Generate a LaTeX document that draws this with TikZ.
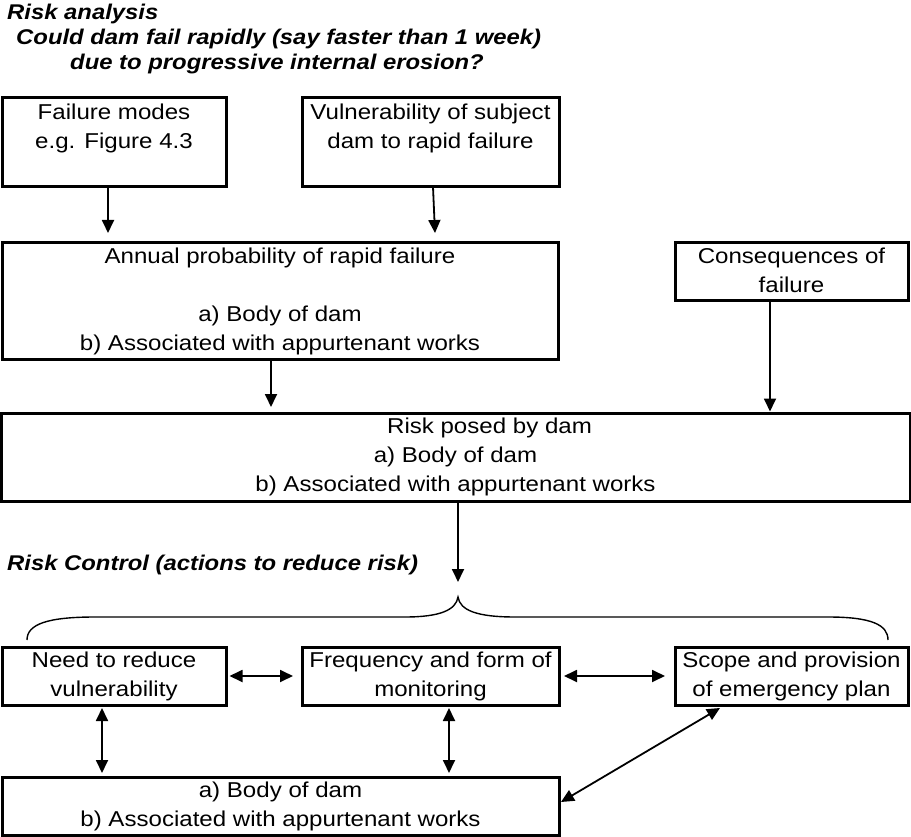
\documentclass[tikz,border=0pt]{standalone}
\usepackage{fontspec}
\setmainfont{Liberation Sans}[FakeStretch=1.12]
\usetikzlibrary{arrows.meta}
\newcommand\mybody{\fontsize{21.5}{29}\selectfont}
\newcommand\mytitle{\fontsize{21.3}{24}\selectfont\bfseries\itshape}
\begin{document}
\begin{tikzpicture}[x=1pt,y=-1pt,
  box/.style={draw, line width=3pt, inner sep=0pt, align=center, font=\mybody},
  ttl/.style={anchor=base west, inner sep=0pt, font=\mytitle},
  tip/.tip={Triangle[width=12pt,length=13pt]},
  arr/.style={line width=1.8pt, -tip},
  darr/.style={line width=1.8pt, tip-tip},
  brace/.style={line width=1.4pt}]
\useasboundingbox (0,0) rectangle (911,837);

% titles
\node[ttl] (t1) at (7,20) {Risk analysis};
\node[ttl] (t2) at (16,45) {Could dam fail rapidly (say faster than 1 week)};
\node[ttl] (t3) at (70,70) {due to progressive internal erosion?};
\node[ttl] (t4) at (7,570) {Risk Control (actions to reduce risk)};

% boxes
\node[box, minimum width=224, minimum height=89] (b1) at (114,142.5)
  {\strut Failure modes\\\strut e.g. Figure 4.3\\\strut};
\node[box, minimum width=257, minimum height=89] (b2) at (430.5,142.5)
  {\strut Vulnerability of subject\\\strut dam to rapid failure\\\strut};
\node[box, minimum width=556, minimum height=116] (b3) at (280,301)
  {\strut Annual probability of rapid failure\\\strut\\\strut a) Body of dam\\\strut b) Associated with appurtenant works};
\node[box, minimum width=233, minimum height=58] (b4) at (791.5,272)
  {\strut Consequences of\\\strut failure};
\node[box, minimum width=909, minimum height=88] (b5) at (455.5,457)
  {\strut\hspace*{68pt}Risk posed by dam\\\strut a) Body of dam\\\strut b) Associated with appurtenant works};
\node[box, minimum width=224, minimum height=58] (bA) at (114,676)
  {\strut Need to reduce\\\strut vulnerability};
\node[box, minimum width=257, minimum height=58] (bB) at (430.5,676)
  {\strut Frequency and form of\\\strut monitoring};
\node[box, minimum width=233, minimum height=58] (bC) at (791.5,676)
  {\strut Scope and provision\\\strut of emergency plan};
\node[box, minimum width=557, minimum height=58] (bD) at (280.5,806)
  {\strut a) Body of dam\\\strut b) Associated with appurtenant works};

% arrow end points
\coordinate (e1) at (108,233);
\coordinate (e2) at (435,233);
\coordinate (s2) at (433,187);
\coordinate (e3) at (271,407);
\coordinate (e4) at (770,413);
\coordinate (e5) at (458,582);
\coordinate (tipb) at (458,597);

\draw[arr] (e1 |- b1.south) -- (e1);
\draw[arr] (s2) -- (e2);
\draw[arr] (e3 |- b3.south) -- (e3);
\draw[arr] (e4 |- b4.south) -- (e4 |- b5.north);
\draw[arr] (e5 |- b5.south) -- (e5);

% brace
\draw[brace] (27,640) .. controls (27,624) and (48,617) .. (95,617)
  -- (405,617) .. controls (440,617) and (456,610) .. (tipb)
  .. controls (460,610) and (476,617) .. (515,617)
  -- (828,617) .. controls (872,617) and (888,625) .. (888,640);

% lower arrows
\coordinate (hA) at (229.5,676);
\coordinate (hB) at (293,676);
\coordinate (hC) at (564,676);
\coordinate (hD) at (665,676);
\draw[darr] (hA) -- (hB);
\draw[darr] (hC) -- (hD);
\coordinate (vA1) at (102,708);
\coordinate (vA2) at (102,773);
\coordinate (vB1) at (449,708);
\coordinate (vB2) at (449,773);
\draw[darr] (vA1) -- (vA2);
\draw[darr] (vB1) -- (vB2);
\coordinate (dC) at (720,708);
\coordinate (dD) at (561,802);
\draw[darr] (dC) -- (dD);
\end{tikzpicture}
\end{document}
